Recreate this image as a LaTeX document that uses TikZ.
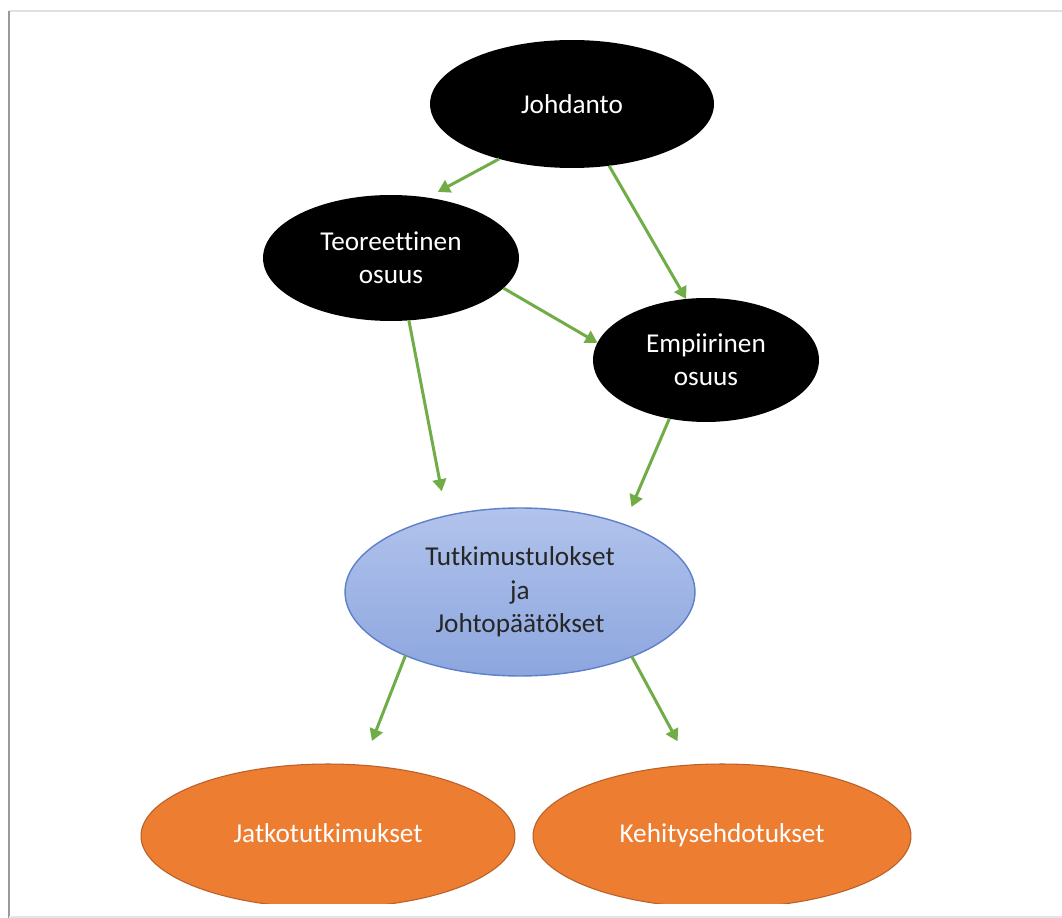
\documentclass[tikz,border=0pt]{standalone}
\usepackage{fontspec}
\setmainfont{Carlito}[Ligatures=NoCommon]
\usepackage{xcolor}
\usetikzlibrary{shapes,arrows.meta,positioning}

\definecolor{arrgreen}{HTML}{70AD47}
\definecolor{resorange}{HTML}{ED7D31}
\definecolor{resorangeline}{HTML}{B9602A}
\definecolor{bluetop}{HTML}{B2C3EC}
\definecolor{bluebot}{HTML}{8CA6DE}
\definecolor{blueline}{HTML}{5E80C8}

\tikzset{
    blacknode/.style={ellipse, fill=black, text=white, inner sep=0pt, outer sep=0pt, align=center,
        font=\fontsize{15.5}{19}\selectfont},
    bluenode/.style={ellipse, top color=bluetop, bottom color=bluebot, draw=blueline, line width=0.8pt,
        text=black!85, inner sep=0pt, outer sep=0pt, align=center, font=\fontsize{15.5}{19}\selectfont},
    orangenode/.style={ellipse, fill=resorange, draw=resorangeline, line width=0.6pt, text=white,
        inner sep=0pt, outer sep=0pt, text height=2.2ex, text depth=0.6ex, font=\fontsize{15.5}{19}\selectfont},
    arr/.style={draw=arrgreen, line width=1.7pt, -{Triangle[length=0.24cm,width=0.27cm]}}
}

\begin{document}
\begin{tikzpicture}[x=0.02cm, y=-0.02cm]
    \useasboundingbox (0,0) rectangle (1062,918);
    \fill[white] (0,0) rectangle (1062,918);

    % page edge
    \draw[black!12, line width=0.8pt] (9,11) -- (1062,11);
    \draw[black!40, line width=1.6pt] (9,11) -- (9,918);
    \draw[black!10, line width=0.8pt] (9,917) -- (1062,917);

    % top part
    \node[blacknode, minimum width=5.68cm, minimum height=2.56cm] (johdanto) at (572,104) {Johdanto};
    \node[blacknode, minimum width=5.12cm, minimum height=2.52cm] (teoria) at (391,258) {Teoreettinen\\osuus};
    \node[blacknode, minimum width=4.52cm, minimum height=2.48cm] (empiria) at (706,360) {Empiirinen\\osuus};

    % results
    \node[bluenode, minimum width=7.0cm, minimum height=3.36cm] (tulokset) at (520,592)
        {Tutkimustulokset\\ja\\Johtopäätökset};

    % bottom part (cut by the page end)
    \begin{scope}
        \clip (0,0) rectangle (1062,903);
        \node[orangenode, minimum width=7.48cm, minimum height=2.88cm] (jatko) at (328,836) {Jatkotutkimukset};
        \node[orangenode, minimum width=7.56cm, minimum height=2.88cm] (kehitys) at (722,836) {Kehitysehdotukset};
    \end{scope}

    % arrows
    \draw[arr, shorten >=0.24cm] (johdanto.217) -- (teoria.59);
    \draw[arr] (johdanto.301) -- (empiria.108);
    \draw[arr] (teoria.345) -- (empiria.171);
    \draw[arr, shorten >=0.5cm] (teoria.286) -- (tulokset.134);
    \draw[arr, shorten >=0.38cm] (empiria.238) -- (tulokset.33);
    \draw[arr, shorten >=0.52cm] (tulokset.209) -- (jatko.64);
    \draw[arr, shorten >=0.54cm] (tulokset.330) -- (kehitys.114);
\end{tikzpicture}
\end{document}
